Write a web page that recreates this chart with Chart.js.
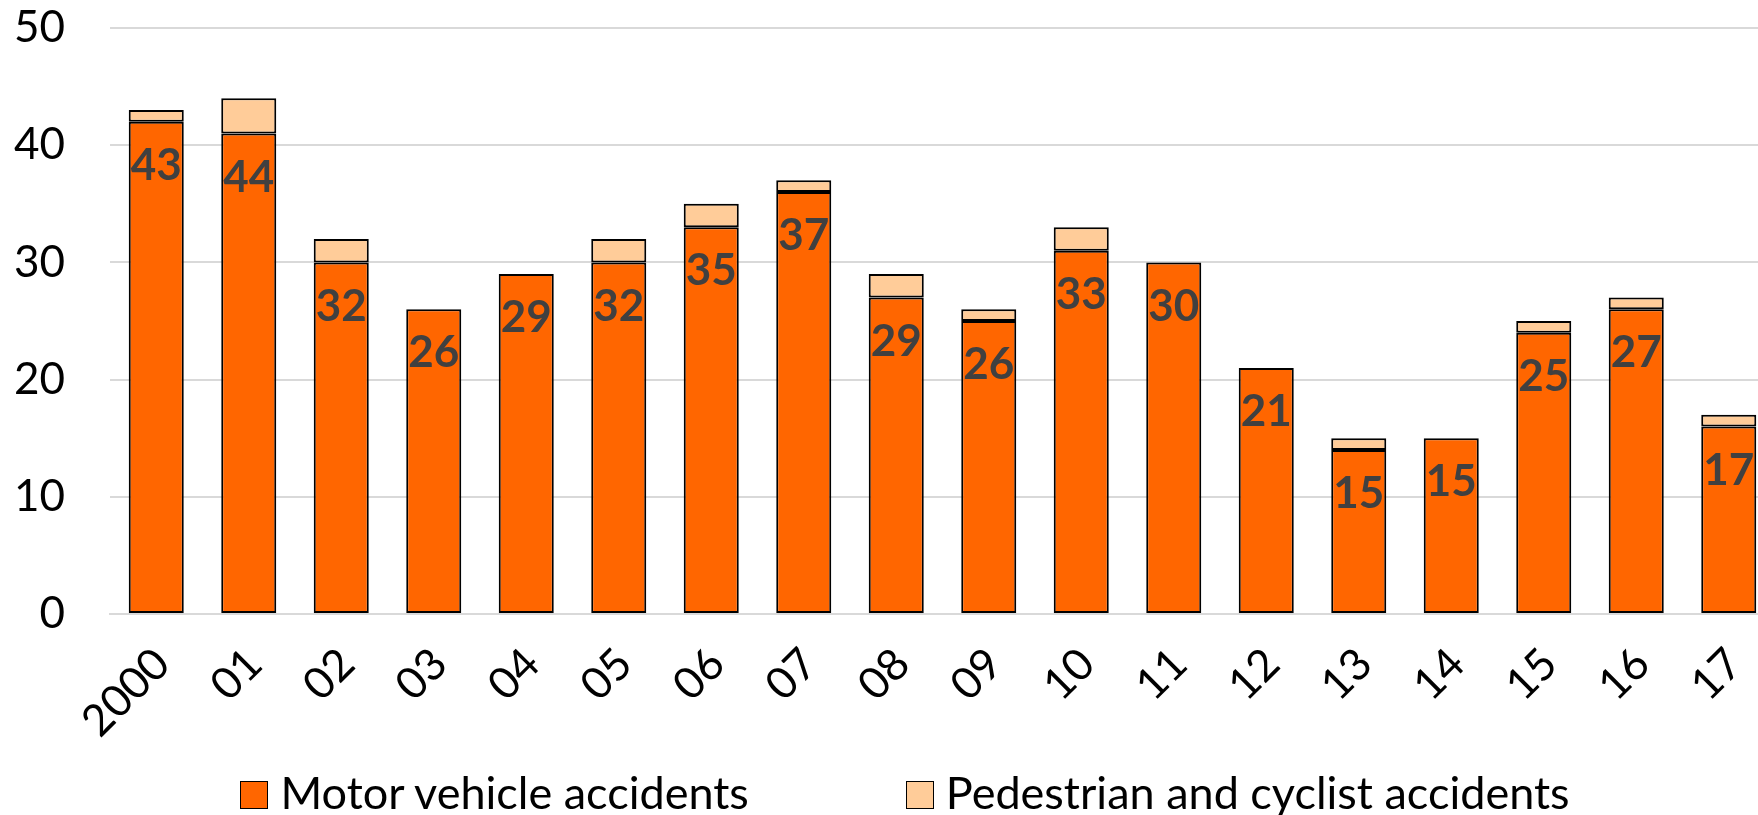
<!DOCTYPE html>
<html lang="en">
<head>
  <meta charset="UTF-8">
  <title>Accidents by year</title>
  <script src="https://cdn.jsdelivr.net/npm/chart.js"></script>
  <style>
    body {
      margin: 0;
      background: #ffffff;
      overflow: hidden;
      font-family: Lato, 'Noto Sans', sans-serif;
    }
    .wrap {
      width: 1810px;
      height: 815px;
      position: relative;
    }
    #legend {
      position: absolute;
      left: 0;
      width: 1810px;
      top: 768px;
      display: flex;
      justify-content: center;
      gap: 157px;
      font-size: 45px;
      line-height: 48px;
      color: #000;
    }
    #legend .item {
      display: flex;
      align-items: center;
    }
    #legend .box {
      width: 26px;
      height: 26px;
      border: 1.5px solid #000;
      margin-right: 12px;
      margin-top: 6px;
    }
  </style>
</head>
<body>
  <div class="wrap">
    <canvas id="accidentChart"></canvas>
    <div id="legend"></div>
  </div>

  <script>
    const years = ['2000', '01', '02', '03', '04', '05', '06', '07', '08', '09',
                   '10', '11', '12', '13', '14', '15', '16', '17'];
    const motorVehicle = [42, 41, 30, 26, 29, 30, 33, 36, 27, 25, 31, 30, 21, 14, 15, 24, 26, 16];
    const pedestrianCyclist = [1, 3, 2, 0, 0, 2, 2, 1, 2, 1, 2, 0, 0, 1, 0, 1, 1, 1];
    const totals = [43, 44, 32, 26, 29, 32, 35, 37, 29, 26, 33, 30, 21, 15, 15, 25, 27, 17];
    const yTicks = [0, 10, 20, 30, 40, 50];

    const fontFamily = "Lato, 'Noto Sans', sans-serif";

    // total labels sit inside the top of the motor vehicle bar
    const totalLabels = {
      id: 'totalLabels',
      afterDatasetsDraw(chart) {
        const ctx = chart.ctx;
        const meta = chart.getDatasetMeta(0);
        ctx.save();
        ctx.font = 'bold 44px ' + fontFamily;
        ctx.fillStyle = '#404040';
        ctx.textAlign = 'center';
        ctx.textBaseline = 'middle';
        meta.data.forEach((bar, i) => {
          ctx.fillText(String(totals[i]), bar.x, bar.y + 44);
        });
        ctx.restore();
      }
    };

    const ctx = document.getElementById('accidentChart').getContext('2d');
    const chart = new Chart(ctx, {
      type: 'bar',
      data: {
        labels: years,
        datasets: [{
          label: 'Motor vehicle accidents',
          data: motorVehicle,
          backgroundColor: '#FF6600',
          borderColor: '#000000',
          borderWidth: 2,
          borderSkipped: false
        }, {
          label: 'Pedestrian and cyclist accidents',
          data: pedestrianCyclist,
          backgroundColor: '#FFCC99',
          borderColor: '#000000',
          borderWidth: 2,
          borderSkipped: false
        }]
      },
      options: {
        responsive: true,
        maintainAspectRatio: false,
        animation: false,
        layout: {
          padding: { left: 12, right: 35, top: 28, bottom: 71 }
        },
        datasets: {
          bar: {
            categoryPercentage: 1.0,
            barPercentage: 0.595
          }
        },
        scales: {
          x: {
            stacked: true,
            grid: { display: false },
            border: { display: true, color: '#d9d9d9', width: 2 },
            ticks: {
              color: '#000000',
              font: { family: fontFamily, size: 44 },
              minRotation: 45,
              maxRotation: 45,
              padding: 16,
              labelOffset: 6
            },
            afterFit(scale) {
              scale.paddingLeft = 0;
              scale.paddingRight = 0;
              scale.height = 130;
            }
          },
          y: {
            stacked: true,
            min: yTicks[0],
            max: yTicks[yTicks.length - 1],
            grid: { color: '#d9d9d9', lineWidth: 2, drawTicks: false },
            border: { display: false },
            ticks: {
              stepSize: 10,
              color: '#000000',
              font: { family: fontFamily, size: 44 },
              padding: 45
            },
            afterFit(scale) {
              scale.width = 98;
              scale.paddingTop = 0;
              scale.paddingBottom = 0;
            }
          }
        },
        plugins: {
          legend: { display: false },
          tooltip: { enabled: false }
        }
      },
      plugins: [totalLabels]
    });

    // legend as plain text below the chart
    const legendEl = document.getElementById('legend');
    chart.data.datasets.forEach(ds => {
      const item = document.createElement('div');
      item.className = 'item';
      const box = document.createElement('span');
      box.className = 'box';
      box.style.background = ds.backgroundColor;
      const text = document.createElement('span');
      text.textContent = ds.label;
      item.appendChild(box);
      item.appendChild(text);
      legendEl.appendChild(item);
    });
  </script>
</body>
</html>
